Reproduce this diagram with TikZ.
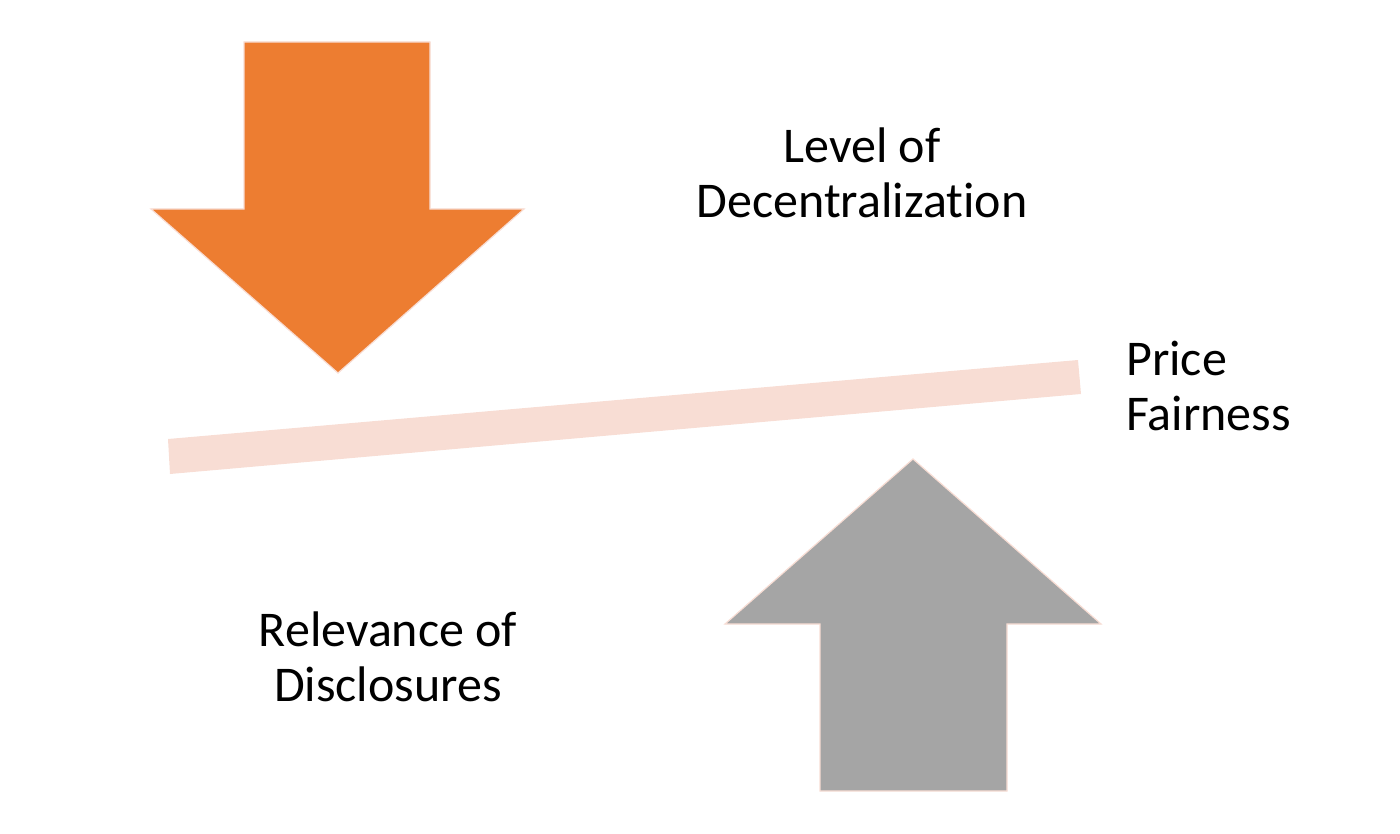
\documentclass[tikz,border=0pt]{standalone}
\usepackage{fontspec}
\setmainfont{Carlito}[Ligatures=NoCommon]
\definecolor{arroworange}{HTML}{ED7D31}
\definecolor{arrowgray}{HTML}{A5A5A5}
\definecolor{beampink}{HTML}{F8DDD4}
\begin{document}
\begin{tikzpicture}[x=1pt,y=-1pt,
  arrowshape/.style={draw=beampink,line width=1.2pt,line join=miter},
  label/.style={inner sep=0pt,font=\fontsize{50}{55}\selectfont},
  beam/.style={fill=beampink,draw=none}]
\useasboundingbox (0,0) rectangle (1400,834);
% orange down arrow
\filldraw[arrowshape,fill=arroworange]
  (244,42) -- (430,42) -- (430,209) -- (524,209) -- (338,373)
  -- (151,209) -- (244,209) -- cycle;
% gray up arrow
\filldraw[arrowshape,fill=arrowgray]
  (913,459) -- (1101,624) -- (1007,624) -- (1007,791) -- (820,791)
  -- (820,624) -- (725,624) -- cycle;
% beam
\fill[beam] (168,439) -- (1078,360) -- (1081,394) -- (170,474) -- cycle;
% labels
\node[label,anchor=base,align=center] (dec) at (862,218) {Level of\\Decentralization};
\node[label,anchor=base west,align=left] (price) at (1126,430) {Price\\Fairness};
\node[label,anchor=base,align=center] (rel) at (388,701) {Relevance of\\Disclosures};
\end{tikzpicture}
\end{document}
